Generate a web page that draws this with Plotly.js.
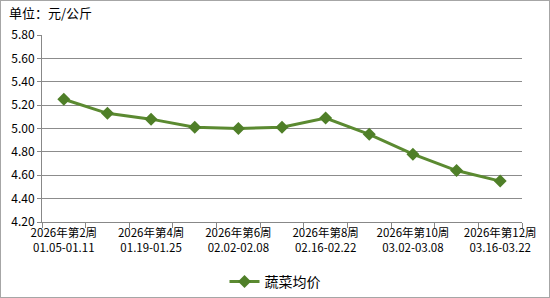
<!DOCTYPE html>
<html><head><meta charset="utf-8">
<script src="https://cdn.plot.ly/plotly-3.0.1.min.js"></script>
<style>body{margin:0;}#wrap{position:relative;width:550px;height:298px;}#chart{width:550px;height:298px;}#border{position:absolute;left:0;top:0;width:550px;height:298px;box-sizing:border-box;border:1px solid #a6a6a6;pointer-events:none;}</style>
</head><body>
<div id="wrap"><div id="chart"></div><div id="border"></div></div>
<script>
const weeks = ['第2周','第3周','第4周','第5周','第6周','第7周','第8周','第9周','第10周','第11周','第12周'];
const tickLabels = ['2026年第2周<br>01.05-01.11','','2026年第4周<br>01.19-01.25','','2026年第6周<br>02.02-02.08','','2026年第8周<br>02.16-02.22','','2026年第10周<br>03.02-03.08','','2026年第12周<br>03.16-03.22'];
const prices = [5.25, 5.13, 5.08, 5.01, 5.00, 5.01, 5.09, 4.95, 4.78, 4.64, 4.55];
const seriesName = '蔬菜均价';
const yTicks = [4.2, 4.4, 4.6, 4.8, 5.0, 5.2, 5.4, 5.6, 5.8];
const font = 'SimSun, "Noto Sans CJK SC", sans-serif';

Plotly.newPlot('chart', [{
  type: 'scatter', mode: 'lines+markers', name: seriesName,
  x: weeks, y: prices,
  line: {color: '#5b8a31', width: 3},
  marker: {symbol: 'diamond', size: 10, color: '#4f7f28'}
}], {
  width: 550, height: 298,
  margin: {l: 42, r: 28, t: 35, b: 76},
  paper_bgcolor: '#ffffff', plot_bgcolor: '#ffffff',
  font: {family: font, size: 12, color: '#000'},
  title: {text: '单位：元/公斤', x: 0, xref: 'container', xanchor: 'left', y: 1, yref: 'container', yanchor: 'top', pad: {t: 9, l: 9}, font: {size: 13, family: font, color: '#000'}},
  showlegend: true,
  legend: {orientation: 'h', x: 0.5, xref: 'container', xanchor: 'center', y: 0, yref: 'container', yanchor: 'bottom', font: {size: 14, family: font}, itemwidth: 30, bgcolor: 'rgba(0,0,0,0)'},
  xaxis: {type: 'category', tickson: 'boundaries', tickmode: 'array', tickvals: weeks, ticktext: tickLabels,
    ticks: 'outside', ticklen: 5, tickcolor: '#888', showline: true, linecolor: '#888', linewidth: 1,
    showgrid: false, zeroline: false, tickangle: 0, tickfont: {size: 11.5, family: font}, range: [-0.5, 10.5]},
  yaxis: {range: [4.2, 5.8], tickmode: 'array', tickvals: yTicks, ticktext: yTicks.map(v => v.toFixed(2)),
    ticks: 'outside', ticklen: 4, tickcolor: '#888', showline: true, linecolor: '#888', linewidth: 1,
    showgrid: true, gridcolor: '#8c8c8c', gridwidth: 1, zeroline: false, tickfont: {size: 12, family: font}}
}, {displayModeBar: false, staticPlot: true});
</script>
</body></html>
